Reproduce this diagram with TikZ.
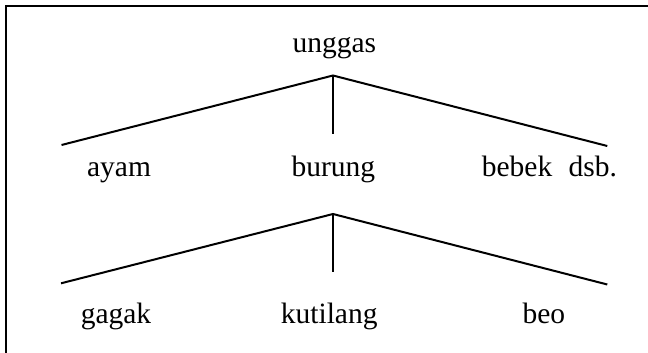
\documentclass[tikz,border=0pt]{standalone}
\usepackage{fontspec}
\setmainfont{Liberation Serif}
\usepackage{tikz}

\tikzset{
  word/.style={anchor=base, inner sep=0pt, font=\fontsize{29.5}{34}\selectfont},
  branch/.style={line width=2pt},
}

\begin{document}
\begin{tikzpicture}[x=1pt, y=-1pt]
      \useasboundingbox (0,0) rectangle (648,353);
      \draw [line width=2.2pt] (6,353) -- (6,6.3) -- (648,6.3);
      % top level
      \node [word] (unggas) at (334.4,52.5) {unggas};
      \coordinate (top) at (333,75.5);
      \coordinate (topL) at (61.5,145);
      \coordinate (topR) at (607.3,146);
      \coordinate (topM) at (333,134);
      \draw [branch] (topL) -- (top) -- (topR);
      \draw [branch] (top) -- (topM);
      % second level
      \node [word] (ayam) at (119,176) {ayam};
      \node [word] (burung) at (333.3,176.7) {burung};
      \node [word] (bebek) at (549.4,176.7) {bebek\hspace{0.55em}dsb.};
      \coordinate (mid) at (333,214);
      \coordinate (midL) at (61,283.3);
      \coordinate (midR) at (607.3,284.5);
      \coordinate (midM) at (333,272);
      \draw [branch] (midL) -- (mid) -- (midR);
      \draw [branch] (mid) -- (midM);
      % third level
      \node [word] (gagak) at (116,323.5) {gagak};
      \node [word] (kutilang) at (329.2,323.5) {kutilang};
      \node [word] (beo) at (543.8,323.5) {beo};
    \end{tikzpicture}
\end{document}
